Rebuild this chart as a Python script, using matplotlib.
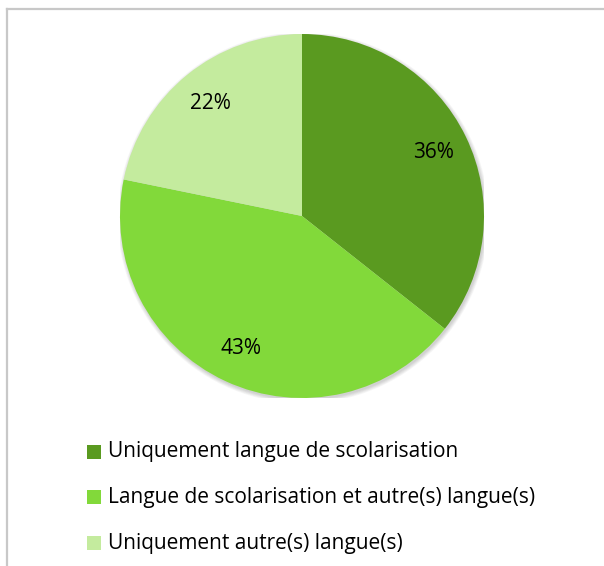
import matplotlib
matplotlib.use("Agg")
import matplotlib.pyplot as plt
from matplotlib.patches import Rectangle, Circle
from matplotlib.lines import Line2D
import numpy as np

labels = ["Uniquement langue de scolarisation",
          "Langue de scolarisation et autre(s) langue(s)",
          "Uniquement autre(s) langue(s)"]
values = [36, 43, 22]
pct_text = ["36%", "43%", "22%"]
colors = ["#5A9A20", "#82D93A", "#C4EB9E"]

W, H = 604, 566
fig = plt.figure(figsize=(W / 100, H / 100), dpi=100)
fig.patch.set_facecolor("white")

# frame (only top and left edges visible)
fig.add_artist(Line2D([6.5 / W, 6.5 / W], [0, 1 - 9 / H], color="#C8C8C8", lw=1.6))
fig.add_artist(Line2D([6.5 / W, 1], [1 - 9 / H, 1 - 9 / H], color="#C8C8C8", lw=1.6))

# pie axes: center (302, 216), radius 182 px
cx, cy, r = 302, 216, 182
ax = fig.add_axes([(cx - r) / W, (H - cy - r) / H, 2 * r / W, 2 * r / H])
ax.set_aspect("equal")
ax.axis("off")

# soft shadow
for i in range(6):
    ax.add_patch(Circle((0.006, -0.01), 1.0 + i * 0.004,
                        color="black", alpha=0.03, lw=0, zorder=0))

wedges, texts = ax.pie(values, colors=colors, startangle=90, counterclock=False,
                       radius=1.0, wedgeprops=dict(linewidth=0), frame=False)
for w in wedges:
    w.set_zorder(2)
ax.set_xlim(-1, 1)
ax.set_ylim(-1, 1)

font = ["Open Sans", "DejaVu Sans"]
for w, t in zip(wedges, pct_text):
    a = np.deg2rad((w.theta1 + w.theta2) / 2)
    ax.text(0.8 * np.cos(a), 0.8 * np.sin(a), t, ha="center", va="center",
            fontsize=15, family=font, color="black", zorder=3)

# legend
rows = [452, 497, 543]
for lab, col, yc in zip(labels, colors, rows):
    fig.add_artist(Rectangle((87 / W, 1 - (yc + 7) / H), 14 / W, 14 / H,
                             transform=fig.transFigure, color=col, lw=0))
    fig.text(108 / W, 1 - yc / H, lab, ha="left", va="center",
             fontsize=15, family=font, color="black")

fig.savefig("out.png", dpi=100, facecolor="white")
